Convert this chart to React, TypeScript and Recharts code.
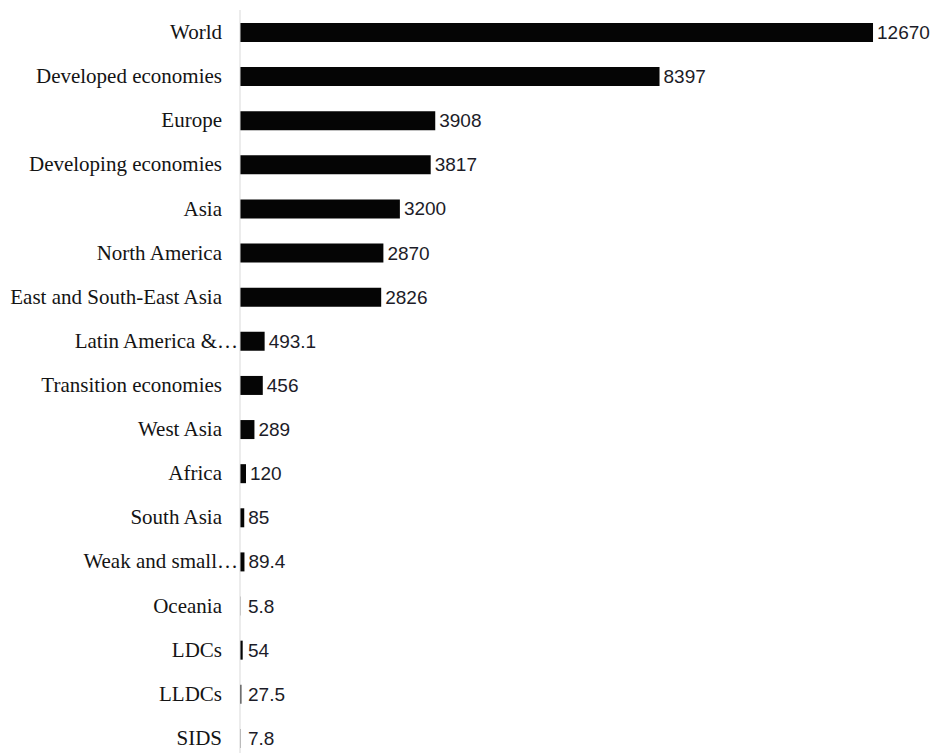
import React from "react";
import { BarChart, Bar, XAxis, YAxis, LabelList } from "recharts";

const categories = [
  "World",
  "Developed economies",
  "Europe",
  "Developing economies",
  "Asia",
  "North America",
  "East and South-East Asia",
  "Latin America &…",
  "Transition economies",
  "West Asia",
  "Africa",
  "South Asia",
  "Weak and small…",
  "Oceania",
  "LDCs",
  "LLDCs",
  "SIDS",
];

const values = [12670, 8397, 3908, 3817, 3200, 2870, 2826, 493.1, 456, 289, 120, 85, 89.4, 5.8, 54, 27.5, 7.8];

const data = categories.map((name, i) => ({ name, value: values[i] }));

const CategoryTick = (props: any) => {
  const { x, y, payload } = props;
  const label: string = payload.value;
  const truncated = label.endsWith("…");
  return (
    <text
      x={truncated ? x + 16 : x}
      y={y}
      dy={7}
      textAnchor="end"
      fontFamily="'Liberation Serif', 'Times New Roman', serif"
      fontSize={21}
      fill="#141414"
    >
      {label}
    </text>
  );
};

const ValueLabel = (props: any) => {
  const { x, y, width, height, value } = props;
  const tx = Math.max(x + width + 4, 248);
  return (
    <text
      x={tx}
      y={y + height / 2}
      dy={6.5}
      textAnchor="start"
      fontFamily="'Liberation Sans', Arial, sans-serif"
      fontSize={19}
      fill="#1c1c28"
    >
      {value}
    </text>
  );
};

export default function App() {
  return (
    <div
      style={{
        position: "fixed",
        top: 0,
        left: 0,
        width: 931,
        height: 753,
        overflow: "hidden",
        background: "#ffffff",
      }}
    >
      <BarChart
        width={931}
        height={770}
        data={data}
        layout="vertical"
        margin={{ top: 10, right: 41.5, bottom: 10, left: 0 }}
        barCategoryGap={0}
      >
        <XAxis type="number" domain={[0, 13000]} hide />
        <YAxis
          type="category"
          dataKey="name"
          width={240}
          axisLine={{ stroke: "#d9d9d9", strokeWidth: 1 }}
          tickLine={false}
          tickSize={18}
          tickMargin={0}
          interval={0}
          tick={<CategoryTick />}
        />
        <Bar dataKey="value" fill="#050505" barSize={19} isAnimationActive={false}>
          <LabelList dataKey="value" content={<ValueLabel />} />
        </Bar>
      </BarChart>
    </div>
  );
}
